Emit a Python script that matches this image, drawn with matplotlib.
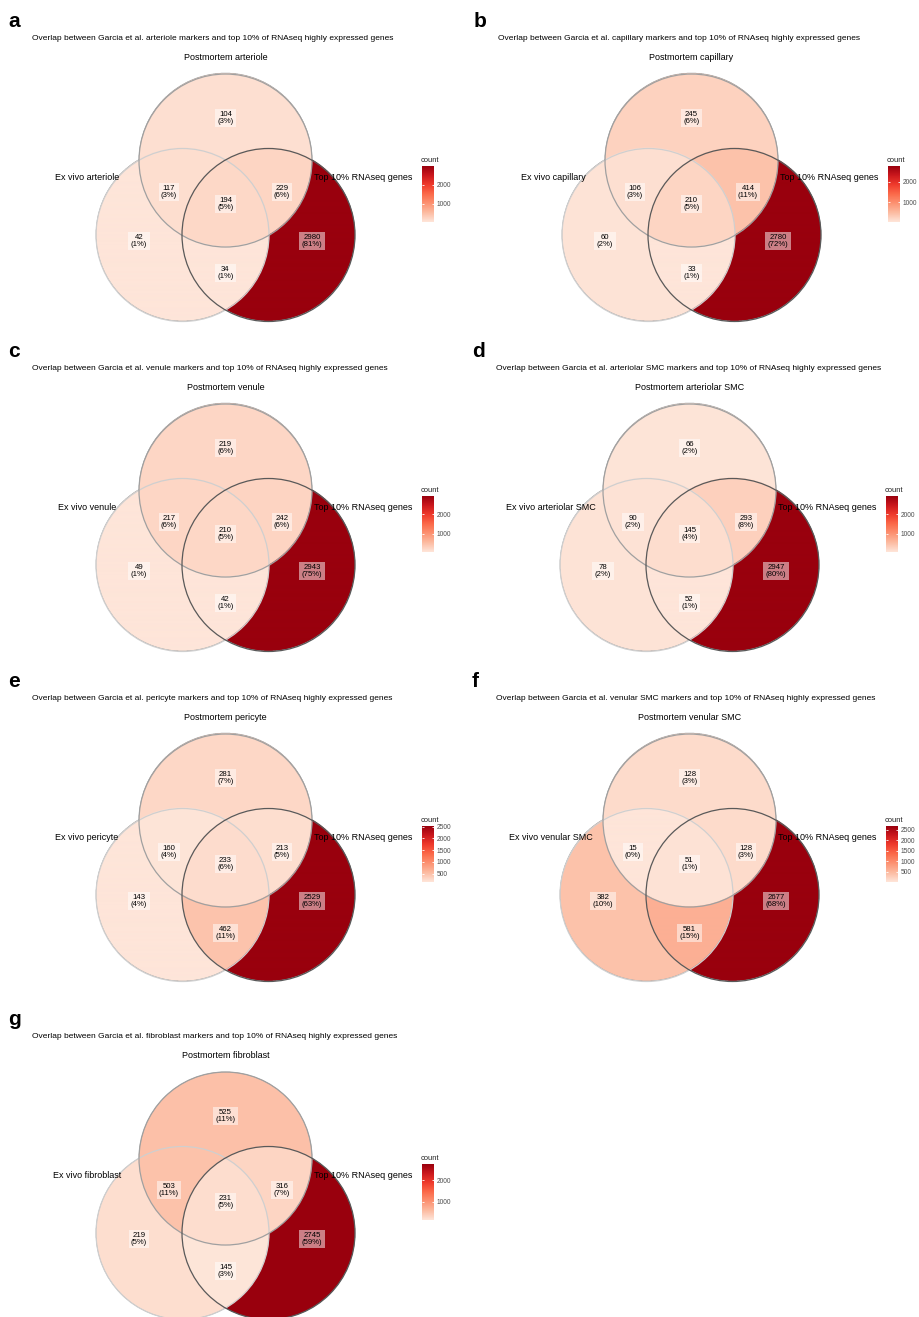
import numpy as np
import matplotlib.pyplot as plt
from matplotlib.colors import LinearSegmentedColormap, Normalize
from matplotlib.cm import ScalarMappable
from matplotlib.patches import Circle

plt.rcParams['font.family'] = ['Liberation Sans', 'DejaVu Sans']

letters = ["a", "b", "c", "d", "e", "f", "g"]
cell_types = ["arteriole", "capillary", "venule", "arteriolar SMC",
              "pericyte", "venular SMC", "fibroblast"]
set_right = "Top 10% RNAseq genes"

# region order: postmortem only, exvivo&postmortem, all three,
# postmortem&top10, exvivo only, exvivo&top10, top10 only
counts_a = [104, 117, 194, 229, 42, 34, 2980]
counts_b = [245, 106, 210, 414, 60, 33, 2780]
counts_c = [219, 217, 210, 242, 49, 42, 2943]
counts_d = [66, 90, 145, 293, 78, 52, 2947]
counts_e = [281, 160, 233, 213, 143, 462, 2529]
counts_f = [128, 15, 51, 128, 382, 581, 2677]
counts_g = [525, 503, 231, 316, 219, 145, 2745]
all_counts = [counts_a, counts_b, counts_c, counts_d, counts_e, counts_f, counts_g]

ticks_a = [1000, 2000]
ticks_b = [1000, 2000]
ticks_c = [1000, 2000]
ticks_d = [1000, 2000]
ticks_e = [500, 1000, 1500, 2000, 2500]
ticks_f = [500, 1000, 1500, 2000, 2500]
ticks_g = [1000, 2000]
all_ticks = [ticks_a, ticks_b, ticks_c, ticks_d, ticks_e, ticks_f, ticks_g]

# bit codes: 1 = ex vivo (left), 2 = postmortem (top), 4 = top10 (right)
region_codes = [2, 3, 7, 6, 1, 5, 4]
# where each region label sits, relative to the midpoint between the two lower circles
label_off = [(0, -117), (-56.5, -43), (0, -31), (56.5, -43), (-86.5, 6), (0, 38), (86.5, 6)]

reds = LinearSegmentedColormap.from_list(
    "reds7", ["#FEE5D9", "#FCBBA1", "#FC9272", "#FB6A4A", "#EF3B2C", "#CB181D", "#99000D"])

W, H = 919, 1317
fig = plt.figure(figsize=(W / 100, H / 100), dpi=100)
ax = fig.add_axes([0, 0, 1, 1])

offsets = [(0, 0), (466, 0), (0, 330), (464, 330), (0, 660), (464, 660), (0, 998)]

R = 86.5
S = 86.0
step = 0.25
edge_cols = ["#CFCFCF", "#A0A0A0", "#595959"]

for i in range(7):
    px, py = offsets[i]
    counts = np.array(all_counts[i])
    total = counts.sum()
    cx, cy = px + 225.5, py + 235
    centers = [(cx - S / 2, cy), (cx, cy - S * np.sqrt(3) / 2), (cx + S / 2, cy)]

    x0, x1 = cx - S / 2 - R - 2, cx + S / 2 + R + 2
    y0, y1 = centers[1][1] - R - 2, cy + R + 2
    gx = np.arange(x0, x1, step) + step / 2
    gy = np.arange(y0, y1, step) + step / 2
    X, Y = np.meshgrid(gx, gy)
    code = np.zeros(X.shape, dtype=int)
    for k, (ccx, ccy) in enumerate(centers):
        code += ((X - ccx) ** 2 + (Y - ccy) ** 2 <= R ** 2).astype(int) << k

    vals = np.full(X.shape, np.nan)
    norm = Normalize(vmin=counts.min(), vmax=counts.max())
    for c, n in zip(region_codes, counts):
        vals[code == c] = n
    ax.imshow(vals, cmap=reds, norm=norm, extent=(x0, x1, y1, y0),
              origin='upper', aspect='auto', interpolation='antialiased', zorder=1)

    for k, (ccx, ccy) in enumerate(centers):
        ax.add_patch(Circle((ccx, ccy), R, fill=False, ec=edge_cols[k], lw=0.9, zorder=2))

    for (dx, dy), n in zip(label_off, counts):
        ax.text(cx + dx, cy + dy, f"{n}\n({round(100 * n / total)}%)", ha='center', va='center',
                fontsize=5.6, linespacing=1.05, zorder=3,
                bbox=dict(boxstyle='square,pad=0.3', fc='white', ec='none', alpha=0.5))

    name = cell_types[i]
    ax.text(px + 8, py + 27, letters[i], fontsize=15, fontweight='bold', ha='left', va='baseline')
    ax.text(px + 32, py + 39,
            f"Overlap between Garcia et al. {name} markers and top 10% of RNAseq highly expressed genes",
            fontsize=6.0, ha='left', va='center')
    ax.text(cx, py + 57, f"Postmortem {name}", fontsize=6.5, ha='center', va='center', zorder=4)
    ax.text(px + 87, py + 178, f"Ex vivo {name}", fontsize=6.5, ha='center', va='center', zorder=4)
    ax.text(px + 363.5, py + 178, set_right, fontsize=6.5, ha='center', va='center', zorder=4)

    cax = fig.add_axes([(px + 422) / W, 1 - (py + 222) / H, 12 / W, 56 / H])
    cb = fig.colorbar(ScalarMappable(norm=norm, cmap=reds), cax=cax)
    cb.outline.set_visible(False)
    cb.set_ticks(all_ticks[i])
    cax.tick_params(length=0, labelsize=4.8, labelcolor='#4D4D4D', pad=2)
    cax.hlines(all_ticks[i], 0, 0.2, color='white', lw=0.6)
    cax.hlines(all_ticks[i], 0.8, 1, color='white', lw=0.6)
    ax.text(px + 421, py + 160, "count", fontsize=5.4, ha='left', va='center', color='#222222')

ax.set_xlim(0, W)
ax.set_ylim(H, 0)
ax.axis('off')

fig.savefig("out.png", dpi=100)
